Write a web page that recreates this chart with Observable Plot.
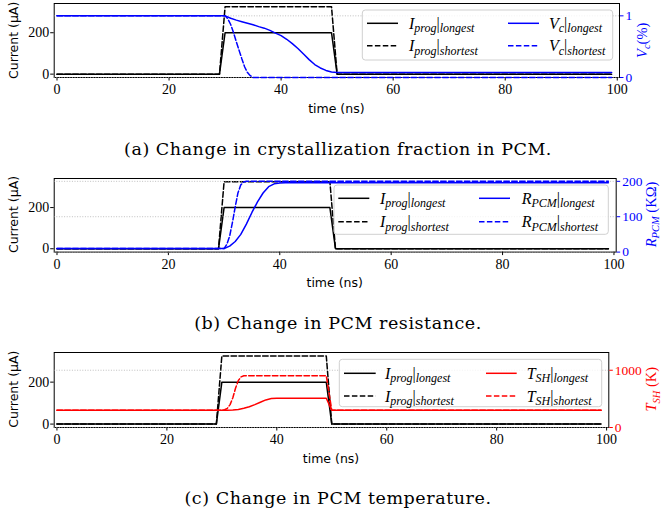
<!DOCTYPE html>
<html><head><meta charset="utf-8">
<script src="https://cdn.jsdelivr.net/npm/d3@7"></script>
<script src="https://cdn.jsdelivr.net/npm/@observablehq/plot@0.6"></script>
<style>
body{margin:0;background:#fff;}
#wrap{position:relative;width:661px;height:515px;overflow:hidden;background:#fff;}
#wrap svg{position:absolute;left:0;}
</style></head><body><div id="wrap"></div>
<script>
// ---------- data ----------
const xTicks = [0, 20, 40, 60, 80, 100];
const leftTicks = [0, 200];

const iprogTime = [0, 29, 30, 49, 50, 99];
const iprogLongest = [0, 0, 200, 200, 0, 0];
const iprogShortest = [0, 0, 325, 325, 0, 0];

const vcLongestTime = [0, 30, 31, 32, 33, 34, 35, 36, 37, 38, 39, 40, 41, 42, 43, 44, 45, 46, 47, 48, 49, 50, 99];
const vcLongest = [1, 1, 0.96, 0.93, 0.905, 0.88, 0.855, 0.825, 0.80, 0.765, 0.72, 0.68, 0.62, 0.55, 0.47, 0.38, 0.29, 0.21, 0.155, 0.115, 0.09, 0.08, 0.08];
const vcShortestTime = [0, 30, 30.5, 31, 31.5, 32, 32.5, 33, 33.5, 34, 34.5, 35, 99];
const vcShortest = [1, 1, 0.95, 0.86, 0.73, 0.58, 0.44, 0.30, 0.17, 0.08, 0.03, 0, 0];
const vcTicks = [0, 1];

const rLongestTime = [0, 30, 31, 32, 33, 34, 35, 36, 37, 38, 39, 40, 41, 99];
const rLongest = [10, 10, 17, 30, 50, 79, 112, 142, 167, 185, 193, 195, 196, 196];
const rShortestTime = [0, 30, 30.5, 31, 31.5, 32, 32.5, 33, 33.5, 34, 99];
const rShortest = [10, 10, 22, 45, 84, 128, 168, 190, 198, 200, 200];
const rTicks = [0, 100, 200];

const tLongestTime = [0, 30, 31, 32, 33, 34, 35, 36, 37, 38, 39, 40, 49, 50, 99];
const tLongest = [300, 300, 302, 306, 315, 335, 362, 400, 442, 482, 505, 511, 511, 300, 300];
const tShortestTime = [0, 30, 30.5, 31, 31.5, 32, 32.5, 33, 33.5, 34, 35, 49, 50, 99];
const tShortest = [300, 300, 310, 335, 400, 520, 690, 820, 885, 903, 905, 905, 300, 300];
const tTicks = [0, 1000];

const captions = [
  "(a) Change in crystallization fraction in PCM.",
  "(b) Change in PCM resistance.",
  "(c) Change in PCM temperature."
];

// ---------- helpers ----------
const pts = (ts, vs) => ts.map((t, i) => ({t, v: vs[i]}));
const W = 661;
const DASH = "5.5,2.4";
const wrap = document.getElementById("wrap");

const panels = [
  {top: 3.3, bottom: 77.3, right: 619, rDomain: [0, 1.2], rTicks: vcTicks, color: "blue",
   L: pts(vcLongestTime, vcLongest), S: pts(vcShortestTime, vcShortest),
   sym: [{t: "V", it: 1}, {t: "c", it: 1, sub: 1}],
   axisLabel: [{t: "V", it: 1}, {t: "c", it: 1, sub: 1}, {t: "(%)"}], axisX: 646.5,
   leg: {x0: 362.3, y0: 10, x1: 612.7, y1: 60, h1: [367, 398], t1: 409, h2: [508, 539], t2: 549, rows: [23.3, 45.7]}},
  {top: 177.7, bottom: 251.3, right: 615.7, rDomain: [0, 208], rTicks: rTicks, color: "blue",
   L: pts(rLongestTime, rLongest), S: pts(rShortestTime, rShortest),
   sym: [{t: "R", it: 1}, {t: "PCM", it: 1, sub: 1}],
   axisLabel: [{t: "R", it: 1}, {t: "PCM", it: 1, sub: 1}, {t: " (KΩ)"}], axisX: 655.5,
   leg: {x0: 334, y0: 185, x1: 608.3, y1: 234.3, h1: [338.3, 369.3], t1: 380, h2: [479, 510], t2: 521.7, rows: [198.3, 221.7]}},
  {top: 351.7, bottom: 426.7, right: 608.3, rDomain: [0, 1310], rTicks: tTicks, color: "red",
   L: pts(tLongestTime, tLongest), S: pts(tShortestTime, tShortest),
   sym: [{t: "T", it: 1}, {t: "SH", it: 1, sub: 1}],
   axisLabel: [{t: "T", it: 1}, {t: "SH", it: 1, sub: 1}, {t: " (K)"}], axisX: 656,
   leg: {x0: 339.3, y0: 359.3, x1: 601.7, y1: 406.7, h1: [344, 375.7], t1: 385, h2: [486, 516.7], t2: 526.7, rows: [373.3, 396]}}
];

const iL = pts(iprogTime, iprogLongest);
const iS = pts(iprogTime, iprogShortest);

const MT = 10, MB = 50, ML = 53.7;
const baseStyle = {fontFamily: "Liberation Serif", fontSize: "14px", background: "transparent", overflow: "visible", color: "black"};

const overlay = d3.create("svg").attr("width", W).attr("height", 515).style("top", "0px");

function mathText(g, x, y, parts, size, subSize, attrs = {}) {
  const t = g.append("text").attr("x", x).attr("y", y)
    .attr("font-family", "Liberation Serif").attr("font-size", size);
  for (const [k, v] of Object.entries(attrs)) t.attr(k, v);
  let off = 0;
  for (const p of parts) {
    const sp = t.append("tspan").text(p.t)
      .attr("font-style", p.it ? "italic" : "normal")
      .attr("font-size", p.sub ? subSize : size);
    const want = p.sub ? 3.5 : 0;
    if (want !== off) { sp.attr("dy", want - off); off = want; }
  }
  return t;
}

panels.forEach((p, k) => {
  const ph = p.bottom - p.top;
  const common = {
    width: W, height: MT + ph + MB, marginTop: MT, marginBottom: MB,
    marginLeft: ML, marginRight: W - p.right, style: baseStyle
  };
  const xDomain = [-0.5, 100.4];
  const left = Plot.plot({
    ...common,
    x: {domain: xDomain, label: null},
    y: {domain: [-16.25, 341.25], label: null},
    marks: [
      Plot.axisX({ticks: xTicks, tickSize: 3.5, tickPadding: 3.5, label: null, tickFormat: d => String(d)}),
      Plot.axisY({ticks: leftTicks, tickSize: 3.5, tickPadding: 1.5, label: null, tickFormat: d => String(d)}),
      Plot.line(iL, {x: "t", y: "v", stroke: "black", strokeWidth: 1.5}),
      Plot.line(iS, {x: "t", y: "v", stroke: "black", strokeWidth: 1.5, strokeDasharray: DASH}),
      Plot.frame({stroke: "black", strokeWidth: 1})
    ]
  });
  left.style.top = (p.top - MT) + "px";
  wrap.appendChild(left);

  const right = Plot.plot({
    ...common,
    x: {domain: xDomain, axis: null, label: null},
    y: {domain: p.rDomain, label: null},
    marks: [
      Plot.ruleY(p.rTicks, {stroke: "#b0b0b0", strokeWidth: 0.8, strokeDasharray: "1,1.6"}),
      Plot.axisY({anchor: "right", ticks: p.rTicks, tickSize: 3.5, tickPadding: 2.5, label: null, color: p.color, fontSize: 13.5, tickFormat: d => String(d)}),
      Plot.line(p.L, {x: "t", y: "v", stroke: p.color, strokeWidth: 1.5}),
      Plot.line(p.S, {x: "t", y: "v", stroke: p.color, strokeWidth: 1.5, strokeDasharray: DASH})
    ]
  });
  right.style.top = (p.top - MT) + "px";
  wrap.appendChild(right);

  // ---- overlay texts ----
  const g = overlay.append("g");
  const midY = (p.top + p.bottom) / 2;
  g.append("text").attr("transform", `translate(17.5,${midY}) rotate(-90)`)
    .attr("text-anchor", "middle").attr("font-family", "DejaVu Sans").attr("font-size", 12.5)
    .text("Current (µA)");
  const ra = g.append("g").attr("transform", `translate(${p.axisX},${midY}) rotate(-90)`);
  mathText(ra, 0, 0, p.axisLabel, 14.5, 10.5, {"text-anchor": "middle", fill: p.color});
  g.append("text").attr("x", (ML + p.right) / 2).attr("y", p.bottom + 36)
    .attr("text-anchor", "middle").attr("font-family", "DejaVu Sans").attr("font-size", 12.5)
    .text("time (ns)");
  g.append("text").attr("x", 338).attr("y", p.bottom + 77.5)
    .attr("text-anchor", "middle").attr("font-family", "DejaVu Serif").attr("font-size", 17.5)
    .attr("letter-spacing", 0.55)
    .text(captions[k]);
  const L = p.leg;
  g.append("rect").attr("x", L.x0).attr("y", L.y0).attr("width", L.x1 - L.x0).attr("height", L.y1 - L.y0)
    .attr("rx", 3).attr("fill", "white").attr("fill-opacity", 0.8).attr("stroke", "#d0d0d0").attr("stroke-width", 1);
  const entries = [
    {h: L.h1, tx: L.t1, row: 0, color: "black", dash: false, parts: [{t: "I", it: 1}, {t: "prog", it: 1, sub: 1}, {t: "|"}, {t: "longest", it: 1, sub: 1}]},
    {h: L.h1, tx: L.t1, row: 1, color: "black", dash: true, parts: [{t: "I", it: 1}, {t: "prog", it: 1, sub: 1}, {t: "|"}, {t: "shortest", it: 1, sub: 1}]},
    {h: L.h2, tx: L.t2, row: 0, color: p.color, dash: false, parts: [...p.sym, {t: "|"}, {t: "longest", it: 1, sub: 1}]},
    {h: L.h2, tx: L.t2, row: 1, color: p.color, dash: true, parts: [...p.sym, {t: "|"}, {t: "shortest", it: 1, sub: 1}]}
  ];
  for (const e of entries) {
    const yy = L.rows[e.row];
    const ln = g.append("line").attr("x1", e.h[0]).attr("x2", e.h[1]).attr("y1", yy).attr("y2", yy)
      .attr("stroke", e.color).attr("stroke-width", 1.5);
    if (e.dash) ln.attr("stroke-dasharray", DASH);
    mathText(g, e.tx, yy + 5.5, e.parts, 16, 12);
  }
});

wrap.appendChild(overlay.node());
</script></body></html>
